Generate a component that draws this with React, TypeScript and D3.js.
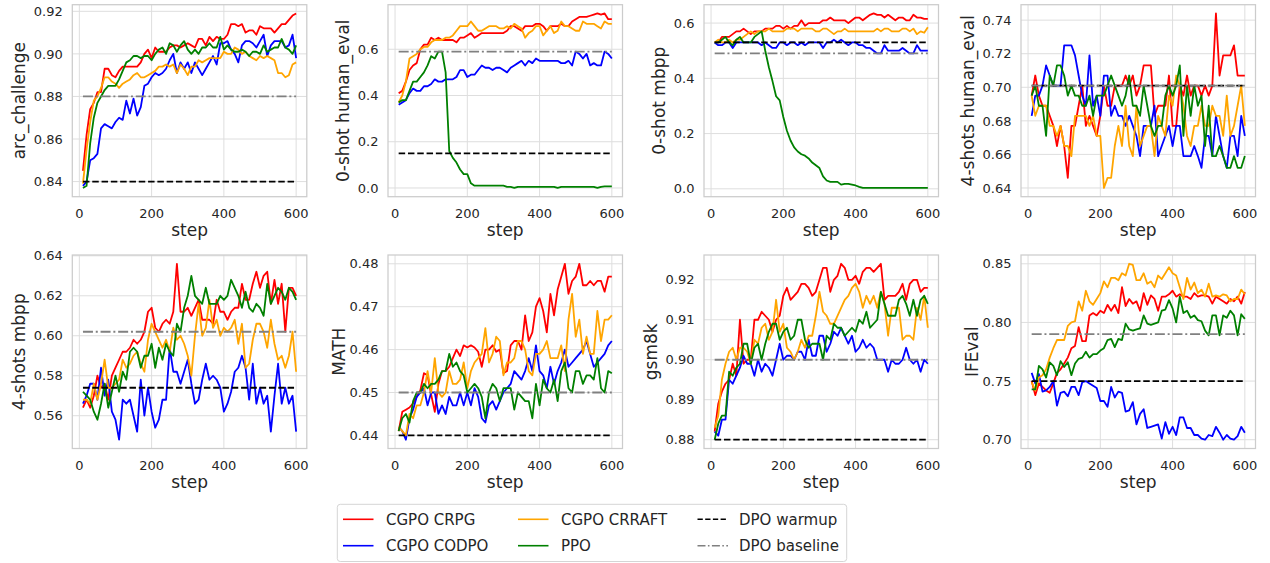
import React from 'react';
import * as d3 from 'd3';

// ---------------- data ----------------
const steps = [10,20,30,40,50,60,70,80,90,100,110,120,130,140,150,160,170,180,190,200,
  210,220,230,240,250,260,270,280,290,300,310,320,330,340,350,360,370,380,390,400,
  410,420,430,440,450,460,470,480,490,500,510,520,530,540,550,560,570,580,590,600];

const metricNames = ['arc_challenge', '0-shot human_eval', '0-shot mbpp', '4-shots human_eval',
  '4-shots mbpp', 'MATH', 'gsm8k', 'IFEval'];
const seriesNames = ['CGPO CRPG', 'CGPO CODPO', 'CGPO CRRAFT', 'PPO'];
const warmupValues = [0.84, 0.15, 0.53, 0.701, 0.574, 0.44, 0.88, 0.75];
const baselineValues = [0.88, 0.59, 0.49, 0.701, 0.602, 0.45, 0.90, 0.79];
const yTickValues = [
  [0.84, 0.86, 0.88, 0.90, 0.92],
  [0.0, 0.2, 0.4, 0.6],
  [0.0, 0.2, 0.4, 0.6],
  [0.64, 0.66, 0.68, 0.70, 0.72, 0.74],
  [0.56, 0.58, 0.60, 0.62, 0.64],
  [0.44, 0.45, 0.46, 0.47, 0.48],
  [0.88, 0.89, 0.90, 0.91, 0.92],
  [0.70, 0.75, 0.80, 0.85],
];
const yTickFormats = ['.2f', '.1f', '.1f', '.2f', '.2f', '.2f', '.2f', '.2f'];
const xTickValues = [0, 200, 400, 600];

// arc_challenge
const arcCRPG = [0.845,0.862,0.874,0.877,0.882,0.882,0.893,0.893,0.890,0.889, 0.892,0.894,0.894,0.894,0.894,0.894,0.896,0.900,0.902,0.898, 0.903,0.901,0.901,0.901,0.903,0.904,0.904,0.903,0.904,0.905, 0.904,0.903,0.907,0.907,0.904,0.908,0.906,0.908,0.907,0.907, 0.909,0.914,0.914,0.913,0.914,0.910,0.911,0.911,0.909,0.913, 0.912,0.912,0.912,0.910,0.912,0.914,0.914,0.916,0.918,0.919];
const arcCODPO = [0.838,0.840,0.850,0.851,0.853,0.865,0.867,0.866,0.865,0.868, 0.870,0.869,0.878,0.872,0.879,0.871,0.875,0.885,0.886,0.889, 0.891,0.890,0.891,0.893,0.897,0.900,0.891,0.896,0.893,0.896, 0.891,0.896,0.893,0.890,0.893,0.896,0.899,0.895,0.905,0.905, 0.906,0.902,0.900,0.896,0.904,0.906,0.906,0.905,0.903,0.906, 0.909,0.899,0.904,0.906,0.906,0.906,0.903,0.904,0.909,0.898];
const arcCRRAFT = [0.839,0.855,0.868,0.878,0.880,0.884,0.889,0.889,0.887,0.886, 0.884,0.886,0.887,0.888,0.890,0.891,0.889,0.889,0.890,0.891, 0.892,0.894,0.894,0.895,0.894,0.895,0.891,0.895,0.893,0.890, 0.894,0.894,0.897,0.896,0.897,0.898,0.898,0.898,0.898,0.901, 0.900,0.900,0.903,0.902,0.900,0.901,0.899,0.898,0.897,0.899, 0.898,0.899,0.898,0.897,0.891,0.891,0.889,0.890,0.895,0.896];
const arcPPO = [0.837,0.838,0.858,0.870,0.877,0.880,0.883,0.885,0.885,0.885, 0.888,0.892,0.896,0.897,0.899,0.899,0.898,0.899,0.899,0.897, 0.900,0.902,0.903,0.900,0.905,0.904,0.901,0.904,0.906,0.902, 0.900,0.902,0.900,0.903,0.903,0.905,0.903,0.903,0.908,0.902, 0.904,0.902,0.901,0.901,0.902,0.901,0.899,0.901,0.901,0.900, 0.904,0.901,0.902,0.903,0.903,0.907,0.903,0.902,0.900,0.904];

// 0-shot human_eval
const he0CRPG = [0.41,0.42,0.46,0.51,0.53,0.54,0.60,0.62,0.62,0.65, 0.64,0.65,0.64,0.64,0.64,0.64,0.63,0.65,0.65,0.66, 0.67,0.65,0.66,0.67,0.67,0.67,0.67,0.67,0.67,0.67, 0.68,0.70,0.70,0.69,0.68,0.70,0.70,0.70,0.71,0.71, 0.70,0.68,0.70,0.70,0.70,0.71,0.70,0.70,0.72,0.73, 0.74,0.74,0.74,0.745,0.75,0.755,0.75,0.755,0.73,0.73];
const he0CODPO = [0.36,0.37,0.38,0.41,0.43,0.42,0.42,0.44,0.44,0.45, 0.47,0.46,0.46,0.47,0.47,0.47,0.48,0.51,0.51,0.48, 0.49,0.49,0.51,0.53,0.52,0.52,0.51,0.52,0.52,0.51, 0.50,0.52,0.53,0.54,0.55,0.53,0.55,0.54,0.56,0.55, 0.55,0.55,0.55,0.55,0.55,0.54,0.54,0.55,0.53,0.59, 0.58,0.56,0.58,0.53,0.54,0.53,0.53,0.59,0.58,0.56];
const he0CRRAFT = [0.37,0.40,0.46,0.56,0.57,0.58,0.60,0.61,0.61,0.63, 0.64,0.64,0.64,0.65,0.65,0.66,0.68,0.70,0.70,0.70, 0.72,0.70,0.68,0.68,0.69,0.70,0.70,0.70,0.69,0.69, 0.70,0.69,0.71,0.70,0.69,0.65,0.67,0.68,0.70,0.70, 0.66,0.68,0.70,0.67,0.68,0.72,0.70,0.70,0.69,0.68, 0.68,0.72,0.71,0.71,0.71,0.70,0.69,0.72,0.71,0.71];
const he0PPO = [0.37,0.38,0.38,0.42,0.46,0.46,0.48,0.50,0.53,0.57, 0.56,0.59,0.59,0.50,0.16,0.13,0.11,0.08,0.06,0.06, 0.02,0.01,0.01,0.01,0.01,0.01,0.01,0.01,0.01,0.01, 0.005,0.005,0.0,0.005,0.005,0.005,0.005,0.005,0.005,0.005, 0.005,0.005,0.005,0.005,0.0,0.005,0.005,0.005,0.005,0.005, 0.005,0.005,0.005,0.005,0.005,0.0,0.005,0.007,0.007,0.007];

// 0-shot mbpp
const mb0CRPG = [0.53,0.53,0.55,0.55,0.55,0.56,0.57,0.57,0.58,0.57, 0.56,0.57,0.57,0.57,0.58,0.58,0.58,0.59,0.59,0.58, 0.59,0.58,0.59,0.59,0.61,0.59,0.60,0.60,0.60,0.60, 0.61,0.61,0.62,0.61,0.61,0.61,0.61,0.60,0.61,0.62, 0.62,0.61,0.62,0.63,0.635,0.63,0.63,0.62,0.63,0.62, 0.61,0.62,0.62,0.61,0.61,0.63,0.62,0.62,0.615,0.615];
const mb0CODPO = [0.53,0.52,0.52,0.53,0.53,0.51,0.53,0.53,0.53,0.53, 0.53,0.53,0.53,0.52,0.53,0.52,0.51,0.51,0.53,0.53, 0.52,0.53,0.53,0.52,0.53,0.52,0.53,0.53,0.53,0.53, 0.51,0.53,0.53,0.54,0.53,0.54,0.53,0.52,0.53,0.53, 0.52,0.52,0.51,0.51,0.50,0.49,0.49,0.52,0.50,0.50, 0.50,0.50,0.51,0.50,0.49,0.49,0.52,0.50,0.50,0.50];
const mb0CRRAFT = [0.53,0.54,0.53,0.53,0.54,0.53,0.54,0.54,0.55,0.56, 0.57,0.56,0.57,0.57,0.57,0.58,0.57,0.57,0.57,0.57, 0.58,0.58,0.58,0.57,0.58,0.58,0.58,0.58,0.57,0.57, 0.58,0.58,0.57,0.56,0.57,0.57,0.58,0.57,0.57,0.57, 0.57,0.57,0.57,0.57,0.57,0.58,0.57,0.58,0.58,0.57, 0.57,0.57,0.58,0.58,0.57,0.58,0.56,0.57,0.565,0.585];
const mb0PPO = [0.53,0.53,0.54,0.55,0.53,0.52,0.54,0.55,0.53,0.53, 0.53,0.55,0.56,0.57,0.50,0.44,0.39,0.335,0.32,0.26, 0.21,0.175,0.15,0.135,0.125,0.12,0.11,0.095,0.085,0.075, 0.045,0.03,0.025,0.025,0.025,0.015,0.018,0.018,0.015,0.012, 0.007,0.003,0.003,0.003,0.003,0.003,0.003,0.003,0.003,0.003, 0.003,0.003,0.003,0.003,0.003,0.003,0.003,0.003,0.003,0.003];

// 4-shots human_eval
const he4CRPG = [0.695,0.707,0.695,0.689,0.689,0.683,0.677,0.665,0.677,0.665, 0.646,0.677,0.677,0.689,0.701,0.677,0.683,0.677,0.671,0.683, 0.701,0.689,0.689,0.701,0.701,0.701,0.707,0.701,0.707,0.695, 0.701,0.713,0.713,0.713,0.683,0.689,0.689,0.689,0.707,0.677, 0.677,0.701,0.695,0.707,0.695,0.701,0.701,0.695,0.701,0.695, 0.701,0.744,0.707,0.719,0.719,0.719,0.725,0.707,0.707,0.707];
const he4CODPO = [0.683,0.695,0.695,0.701,0.713,0.707,0.701,0.701,0.701,0.725, 0.725,0.725,0.719,0.707,0.695,0.689,0.719,0.689,0.695,0.683, 0.707,0.707,0.683,0.689,0.683,0.683,0.677,0.683,0.677,0.671, 0.659,0.677,0.677,0.677,0.689,0.659,0.665,0.671,0.677,0.665, 0.677,0.677,0.659,0.659,0.659,0.665,0.659,0.652,0.671,0.671, 0.659,0.683,0.671,0.659,0.652,0.671,0.671,0.659,0.683,0.671];
const he4CRRAFT = [0.695,0.683,0.689,0.689,0.689,0.677,0.677,0.671,0.677,0.665, 0.665,0.659,0.683,0.683,0.683,0.683,0.677,0.683,0.671,0.671, 0.640,0.646,0.646,0.665,0.677,0.665,0.689,0.665,0.659,0.689, 0.665,0.671,0.677,0.677,0.659,0.683,0.677,0.671,0.695,0.689, 0.707,0.701,0.689,0.671,0.665,0.677,0.677,0.689,0.677,0.677, 0.689,0.683,0.683,0.671,0.695,0.671,0.677,0.689,0.701,0.677];
const he4PPO = [0.695,0.701,0.689,0.689,0.671,0.707,0.701,0.713,0.713,0.707, 0.695,0.701,0.695,0.695,0.689,0.689,0.695,0.683,0.695,0.695, 0.695,0.701,0.707,0.701,0.695,0.689,0.695,0.707,0.689,0.689, 0.683,0.701,0.689,0.677,0.671,0.677,0.677,0.695,0.701,0.695, 0.701,0.713,0.671,0.701,0.683,0.701,0.689,0.695,0.665,0.689, 0.659,0.659,0.665,0.659,0.652,0.652,0.659,0.652,0.652,0.659];

// 4-shots mbpp
const mb4CRPG = [0.564,0.568,0.564,0.570,0.580,0.574,0.576,0.568,0.580,0.584, 0.588,0.592,0.592,0.594,0.598,0.596,0.598,0.602,0.612,0.614, 0.604,0.602,0.606,0.608,0.606,0.612,0.636,0.612,0.612,0.614, 0.610,0.614,0.618,0.608,0.608,0.608,0.606,0.618,0.612,0.612, 0.608,0.612,0.614,0.614,0.626,0.618,0.618,0.626,0.632,0.624, 0.630,0.632,0.616,0.628,0.616,0.626,0.602,0.624,0.624,0.620];
const mb4CODPO = [0.566,0.570,0.576,0.576,0.568,0.584,0.570,0.578,0.562,0.558, 0.548,0.568,0.566,0.568,0.560,0.552,0.578,0.560,0.574,0.562, 0.554,0.558,0.568,0.568,0.594,0.582,0.582,0.576,0.582,0.588, 0.576,0.566,0.568,0.578,0.586,0.578,0.580,0.578,0.574,0.562, 0.566,0.572,0.582,0.584,0.590,0.584,0.568,0.586,0.566,0.574, 0.566,0.570,0.552,0.570,0.586,0.566,0.574,0.566,0.570,0.552];
const mb4CRRAFT = [0.568,0.568,0.566,0.576,0.568,0.576,0.588,0.574,0.574,0.576, 0.578,0.588,0.584,0.586,0.590,0.592,0.586,0.582,0.598,0.606, 0.602,0.598,0.594,0.598,0.592,0.604,0.598,0.600,0.596,0.590, 0.580,0.600,0.616,0.600,0.604,0.618,0.604,0.608,0.600,0.604, 0.602,0.604,0.608,0.596,0.606,0.584,0.586,0.598,0.606,0.606, 0.602,0.594,0.608,0.596,0.588,0.590,0.584,0.590,0.602,0.582];
const mb4PPO = [0.572,0.570,0.568,0.562,0.558,0.566,0.576,0.564,0.572,0.580, 0.572,0.582,0.578,0.592,0.594,0.592,0.584,0.590,0.590,0.596, 0.584,0.594,0.588,0.596,0.592,0.590,0.606,0.602,0.614,0.620, 0.630,0.620,0.618,0.616,0.624,0.616,0.616,0.616,0.620,0.618, 0.620,0.628,0.624,0.620,0.614,0.622,0.614,0.612,0.616,0.614, 0.610,0.626,0.616,0.620,0.624,0.622,0.618,0.624,0.622,0.618];

// MATH
const mathCRPG = [0.441,0.4455,0.446,0.4465,0.4475,0.449,0.4505,0.4545,0.454,0.4495, 0.4455,0.452,0.455,0.455,0.456,0.458,0.460,0.4585,0.461,0.4605, 0.461,0.4605,0.4595,0.456,0.460,0.460,0.461,0.4595,0.460,0.4545, 0.455,0.461,0.462,0.462,0.460,0.468,0.462,0.464,0.470,0.472, 0.469,0.464,0.473,0.468,0.474,0.477,0.480,0.473,0.476,0.477, 0.480,0.475,0.475,0.476,0.475,0.476,0.476,0.4735,0.477,0.477];
const mathCODPO = [0.442,0.441,0.439,0.444,0.446,0.449,0.450,0.451,0.447,0.450, 0.450,0.445,0.447,0.445,0.449,0.447,0.447,0.450,0.447,0.450, 0.447,0.451,0.449,0.444,0.443,0.447,0.448,0.446,0.448,0.450, 0.451,0.452,0.455,0.454,0.453,0.455,0.458,0.455,0.461,0.455, 0.454,0.451,0.456,0.452,0.455,0.457,0.460,0.456,0.457,0.458, 0.459,0.460,0.462,0.459,0.456,0.457,0.458,0.459,0.461,0.462];
const mathCRRAFT = [0.442,0.441,0.440,0.445,0.444,0.447,0.447,0.450,0.455,0.450, 0.458,0.450,0.449,0.450,0.455,0.452,0.452,0.453,0.457,0.451, 0.455,0.457,0.458,0.459,0.465,0.457,0.459,0.463,0.462,0.454, 0.457,0.457,0.458,0.462,0.462,0.460,0.455,0.454,0.459,0.459, 0.460,0.462,0.458,0.458,0.458,0.461,0.455,0.467,0.473,0.463, 0.467,0.459,0.463,0.459,0.459,0.469,0.462,0.467,0.467,0.468];
const mathPPO = [0.441,0.444,0.445,0.443,0.448,0.450,0.450,0.452,0.451,0.452, 0.452,0.453,0.455,0.455,0.459,0.456,0.457,0.455,0.454,0.450, 0.451,0.452,0.451,0.449,0.444,0.450,0.452,0.451,0.448,0.451, 0.451,0.451,0.446,0.450,0.449,0.448,0.448,0.444,0.452,0.447, 0.453,0.451,0.450,0.453,0.448,0.455,0.457,0.451,0.450,0.455, 0.455,0.452,0.454,0.454,0.453,0.458,0.451,0.450,0.455,0.4545];

// gsm8k
const gsmCRPG = [0.882,0.889,0.892,0.894,0.895,0.899,0.896,0.910,0.899,0.900, 0.900,0.910,0.910,0.912,0.911,0.910,0.907,0.910,0.911,0.916, 0.918,0.915,0.916,0.917,0.919,0.919,0.918,0.916,0.917,0.920, 0.923,0.923,0.917,0.920,0.921,0.924,0.923,0.920,0.920,0.921, 0.919,0.922,0.923,0.923,0.922,0.923,0.924,0.915,0.916,0.916, 0.916,0.917,0.919,0.915,0.919,0.920,0.920,0.917,0.918,0.918];
const gsmCODPO = [0.882,0.881,0.885,0.885,0.895,0.894,0.896,0.898,0.901,0.899, 0.899,0.896,0.900,0.897,0.899,0.898,0.896,0.900,0.904,0.900, 0.901,0.901,0.900,0.902,0.902,0.900,0.905,0.901,0.901,0.906, 0.906,0.902,0.904,0.907,0.906,0.908,0.906,0.904,0.906,0.902, 0.903,0.905,0.903,0.904,0.903,0.900,0.900,0.900,0.897,0.900, 0.899,0.899,0.900,0.903,0.900,0.899,0.900,0.897,0.900,0.899];
const gsmCRRAFT = [0.883,0.886,0.895,0.899,0.902,0.903,0.900,0.903,0.903,0.902, 0.899,0.905,0.904,0.908,0.909,0.905,0.907,0.915,0.907,0.909, 0.903,0.902,0.900,0.902,0.905,0.903,0.906,0.906,0.911,0.917, 0.912,0.911,0.909,0.909,0.911,0.913,0.915,0.916,0.918,0.919, 0.917,0.913,0.916,0.914,0.916,0.913,0.917,0.914,0.906,0.913, 0.913,0.913,0.905,0.906,0.906,0.905,0.913,0.910,0.916,0.908];
const gsmPPO = [0.880,0.884,0.886,0.886,0.897,0.896,0.898,0.899,0.904,0.904, 0.899,0.903,0.904,0.900,0.904,0.907,0.909,0.909,0.905,0.907, 0.908,0.905,0.906,0.910,0.910,0.905,0.903,0.904,0.904,0.904, 0.900,0.906,0.905,0.909,0.908,0.908,0.906,0.907,0.908,0.907, 0.910,0.909,0.912,0.908,0.909,0.910,0.917,0.914,0.911,0.911, 0.911,0.915,0.916,0.914,0.911,0.915,0.911,0.915,0.916,0.914];

// IFEval
const ifCRPG = [0.750,0.738,0.748,0.745,0.742,0.740,0.748,0.757,0.760,0.765, 0.770,0.778,0.780,0.796,0.784,0.784,0.806,0.808,0.806,0.810, 0.808,0.815,0.810,0.815,0.808,0.830,0.814,0.820,0.816,0.818, 0.810,0.825,0.815,0.823,0.820,0.810,0.822,0.822,0.824,0.827, 0.822,0.824,0.822,0.822,0.820,0.825,0.822,0.823,0.823,0.822, 0.816,0.822,0.820,0.818,0.816,0.820,0.818,0.822,0.816,0.826];
const ifCODPO = [0.757,0.748,0.756,0.741,0.742,0.745,0.750,0.729,0.740,0.741, 0.737,0.745,0.745,0.738,0.749,0.750,0.748,0.746,0.744,0.733, 0.733,0.728,0.745,0.736,0.741,0.740,0.724,0.725,0.732,0.713, 0.722,0.726,0.710,0.711,0.712,0.713,0.701,0.715,0.705,0.711, 0.704,0.719,0.719,0.710,0.710,0.704,0.704,0.701,0.700,0.704, 0.703,0.711,0.706,0.700,0.704,0.701,0.700,0.703,0.711,0.706];
const ifCRRAFT = [0.749,0.742,0.753,0.755,0.760,0.770,0.778,0.785,0.785,0.785, 0.797,0.800,0.801,0.818,0.810,0.827,0.818,0.815,0.820,0.825, 0.835,0.830,0.838,0.838,0.836,0.842,0.840,0.850,0.849,0.836, 0.836,0.842,0.833,0.835,0.830,0.840,0.837,0.842,0.847,0.842, 0.840,0.830,0.820,0.838,0.828,0.834,0.825,0.828,0.822,0.833, 0.822,0.823,0.822,0.824,0.823,0.818,0.820,0.820,0.828,0.824];
const ifPPO = [0.743,0.743,0.763,0.760,0.753,0.766,0.763,0.755,0.767,0.762, 0.766,0.755,0.765,0.769,0.770,0.775,0.770,0.773,0.773,0.776, 0.778,0.785,0.786,0.779,0.786,0.785,0.799,0.794,0.793,0.794, 0.795,0.806,0.799,0.798,0.799,0.800,0.810,0.811,0.819,0.812, 0.800,0.822,0.808,0.810,0.804,0.806,0.802,0.801,0.793,0.789, 0.806,0.806,0.789,0.806,0.804,0.810,0.806,0.789,0.807,0.803];

const crpgByMetric = [arcCRPG, he0CRPG, mb0CRPG, he4CRPG, mb4CRPG, mathCRPG, gsmCRPG, ifCRPG];
const codpoByMetric = [arcCODPO, he0CODPO, mb0CODPO, he4CODPO, mb4CODPO, mathCODPO, gsmCODPO, ifCODPO];
const crraftByMetric = [arcCRRAFT, he0CRRAFT, mb0CRRAFT, he4CRRAFT, mb4CRRAFT, mathCRRAFT, gsmCRRAFT, ifCRRAFT];
const ppoByMetric = [arcPPO, he0PPO, mb0PPO, he4PPO, mb4PPO, mathPPO, gsmPPO, ifPPO];

// ---------------- style / layout ----------------
const W = 1270;
const H = 563;
const FONT = "'DejaVu Sans', Verdana, sans-serif";
const TEXT = '#262626';
const GRID = '#dedede';
const SPINE = '#cccccc';
const seriesColors = ['#ff0000', '#0000ff', '#ffa500', '#008000'];
const WARM_COLOR = '#000000';
const BASE_COLOR = '#808080';
const LW = 1.8;
const WARM_DASH = '6.5 2.8';
const BASE_DASH = '10 2.8 2 2.8';

const colLeft = [72.3, 388, 704, 1021];
const rowTop = [4.7, 255];
const rowHeight = [192, 193.5];
const panelWidth = 234.5;
const TICK_FS = 13;
const LABEL_FS = 17;

function textWidth(s: string, fs: number) {
  let w = 0;
  for (const ch of s) w += ch === '.' ? 0.318 : 0.636;
  return w * fs;
}

function Panel({ i }: { i: number }) {
  const col = i % 4;
  const row = Math.floor(i / 4);
  const L = colLeft[col];
  const T = rowTop[row];
  const ph = rowHeight[row];
  const R = L + panelWidth;
  const B = T + ph;

  const series = [crpgByMetric[i], codpoByMetric[i], crraftByMetric[i], ppoByMetric[i]];
  const all = ([] as number[]).concat(...series, [warmupValues[i], baselineValues[i]]);
  const [mn, mx] = d3.extent(all) as [number, number];
  const pad = (mx - mn) * 0.05;

  const x = d3.scaleLinear().domain([-19.5, 629.5]).range([L, R]);
  const y = d3.scaleLinear().domain([mn - pad, mx + pad]).range([B, T]);
  const line = d3.line<number>().x((_, j) => x(steps[j])).y((d) => y(d));
  const hline = d3.line<number>().x((d) => x(d)).y(() => 0);

  const fmt = d3.format(yTickFormats[i]);
  const ticks = yTickValues[i];
  const maxW = Math.max(...ticks.map((t) => textWidth(fmt(t), TICK_FS)));
  const tickRight = L - 9.5;
  const label = metricNames[i];
  const hasDesc = /[gpqyj_]/.test(label);
  const labelX = tickRight - maxW - 5 - (hasDesc ? 4 : 0);
  const clipId = `clip-${i}`;
  const firstStep = steps[0];
  const lastStep = steps[steps.length - 1];

  return (
    <g>
      <defs>
        <clipPath id={clipId}>
          <rect x={L} y={T} width={panelWidth} height={ph} />
        </clipPath>
      </defs>
      <rect x={L} y={T} width={panelWidth} height={ph} fill="#ffffff" />
      {ticks.map((t) => (
        <line key={`gy${t}`} x1={L} x2={R} y1={y(t)} y2={y(t)} stroke={GRID} strokeWidth={1} />
      ))}
      {xTickValues.map((t) => (
        <line key={`gx${t}`} x1={x(t)} x2={x(t)} y1={T} y2={B} stroke={GRID} strokeWidth={1} />
      ))}
      <g clipPath={`url(#${clipId})`}>
        {series.map((s, k) => (
          <path key={k} d={line(s) || ''} fill="none" stroke={seriesColors[k]} strokeWidth={LW} strokeLinejoin="round" />
        ))}
        <path
          d={hline([firstStep, lastStep]) || ''}
          transform={`translate(0,${y(warmupValues[i])})`}
          fill="none" stroke={WARM_COLOR} strokeWidth={LW} strokeDasharray={WARM_DASH}
        />
        <path
          d={hline([firstStep, lastStep]) || ''}
          transform={`translate(0,${y(baselineValues[i])})`}
          fill="none" stroke={BASE_COLOR} strokeWidth={LW} strokeDasharray={BASE_DASH}
        />
      </g>
      <rect x={L} y={T} width={panelWidth} height={ph} fill="none" stroke={SPINE} strokeWidth={1.25} />
      {ticks.map((t) => (
        <text key={`ty${t}`} x={tickRight} y={y(t)} dy="0.36em" textAnchor="end" fontSize={TICK_FS} fill={TEXT} fontFamily={FONT}>
          {fmt(t)}
        </text>
      ))}
      {xTickValues.map((t) => (
        <text key={`tx${t}`} x={x(t)} y={B + 21.6} textAnchor="middle" fontSize={TICK_FS} fill={TEXT} fontFamily={FONT}>
          {t}
        </text>
      ))}
      <text x={(L + R) / 2} y={B + 39.5} textAnchor="middle" fontSize={LABEL_FS} fill={TEXT} fontFamily={FONT}>
        step
      </text>
      <text
        transform={`translate(${labelX},${(T + B) / 2}) rotate(-90)`}
        textAnchor="middle" fontSize={LABEL_FS} fill={TEXT} fontFamily={FONT}
      >
        {label}
      </text>
    </g>
  );
}

const legendEntries = [
  { name: seriesNames[0], color: seriesColors[0], dash: undefined as string | undefined },
  { name: seriesNames[1], color: seriesColors[1], dash: undefined },
  { name: seriesNames[2], color: seriesColors[2], dash: undefined },
  { name: seriesNames[3], color: seriesColors[3], dash: undefined },
  { name: 'DPO warmup', color: WARM_COLOR, dash: '5.3 2.4' },
  { name: 'DPO baseline', color: BASE_COLOR, dash: '8 2.4 1.6 2.4' },
];

function Legend() {
  const handleX = [343, 518, 697.5];
  const textX = [386, 561, 739];
  const rowY = [519.3, 545.7];
  return (
    <g>
      <rect x={337.3} y={504.3} width={509.4} height={57.2} rx={3} fill="#ffffff" fillOpacity={0.8} stroke="#d5d5d5" strokeWidth={1} />
      {legendEntries.map((e, k) => {
        const c = Math.floor(k / 2);
        const r = k % 2;
        const yy = rowY[r];
        return (
          <g key={e.name}>
            <line x1={handleX[c]} x2={handleX[c] + 30.5} y1={yy} y2={yy} stroke={e.color} strokeWidth={1.6} strokeDasharray={e.dash} />
            <text x={textX[c]} y={yy + 5.4} fontSize={15} fill={TEXT} fontFamily={FONT}>
              {e.name}
            </text>
          </g>
        );
      })}
    </g>
  );
}

export default function App() {
  return (
    <svg width={W} height={H} viewBox={`0 0 ${W} ${H}`} style={{ position: 'absolute', left: 0, top: 0, background: '#ffffff' }}>
      <rect x={0} y={0} width={W} height={H} fill="#ffffff" />
      {metricNames.map((_, i) => (
        <Panel key={i} i={i} />
      ))}
      <Legend />
    </svg>
  );
}
